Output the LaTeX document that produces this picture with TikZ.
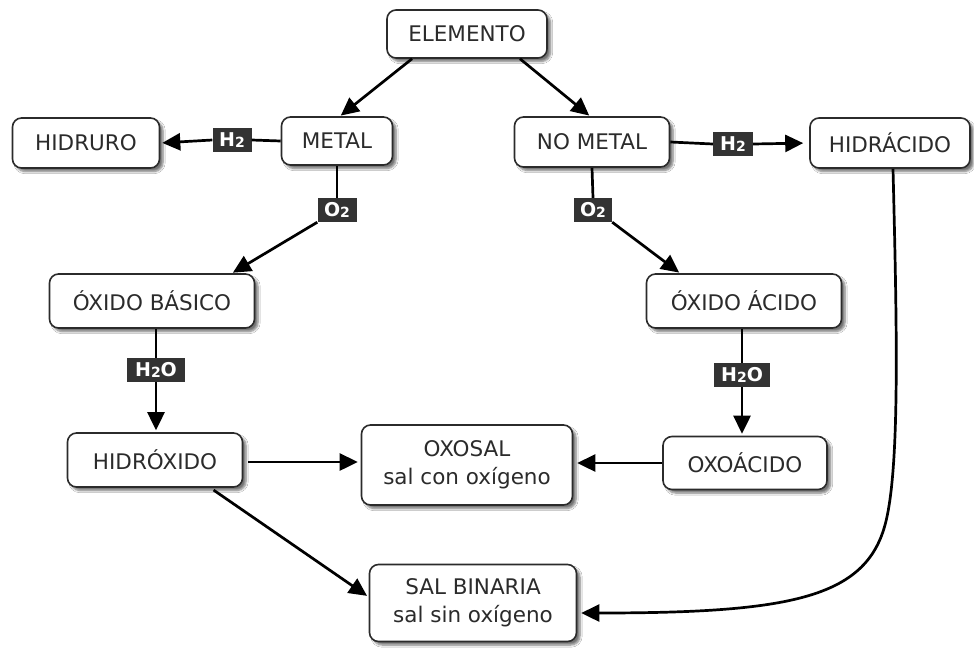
\documentclass[tikz,border=0pt]{standalone}
\usepackage{fontspec}
\setmainfont{DejaVu Sans}
\usetikzlibrary{arrows.meta,shadows.blur}
\definecolor{ink}{HTML}{2B2B2B}
\definecolor{lab}{HTML}{333333}
\newcommand{\sub}[1]{\raisebox{-0.5pt}{\fontsize{14}{14}\selectfont #1}}
\begin{document}
\begin{tikzpicture}[x=1pt,y=-1pt,
 box/.style={draw=ink, line width=1.6pt, rounded corners=9pt, fill=white, text=ink,
   font=\fontsize{21.5}{28}\selectfont, align=center, inner sep=0pt,
   blur shadow={shadow xshift=3.5pt, shadow yshift=-3.5pt, shadow blur steps=6, shadow opacity=55}},
 chem/.style={fill=lab, text=white, font=\bfseries\fontsize{19}{20}\selectfont, inner sep=0pt, minimum height=24pt},
 arr/.style={draw=black, line width=2.7pt, -{Triangle[length=18pt,width=17pt]}},
 ln/.style={draw=black, line width=2.7pt}]

\useasboundingbox (0,0) rectangle (974,656);
\fill[white] (0,0) rectangle (974,656);

\node[box, minimum width=160pt, minimum height=48pt] (elem) at (467,34) {ELEMENTO};
\node[box, minimum width=147pt, minimum height=50pt] (hidruro) at (86,143) {HIDRURO};
\node[box, minimum width=111pt, minimum height=48pt] (metal) at (337,141) {METAL};
\node[box, minimum width=155pt, minimum height=50pt] (nometal) at (592,142) {NO METAL};
\node[box, minimum width=160pt, minimum height=50pt] (hidracido) at (890,143) {HIDRÁCIDO};
\node[box, minimum width=205pt, minimum height=54pt] (oxbas) at (152,301) {ÓXIDO BÁSICO};
\node[box, minimum width=195pt, minimum height=54pt] (oxac) at (744,301) {ÓXIDO ÁCIDO};
\node[box, minimum width=175pt, minimum height=54pt] (hidrox) at (155,460) {HIDRÓXIDO};
\node[box, minimum width=211pt, minimum height=80pt] (oxosal) at (467,465) {OXOSAL\\sal con oxígeno};
\node[box, minimum width=164pt, minimum height=53pt] (oxoac) at (745,463) {OXOÁCIDO};
\node[box, minimum width=207pt, minimum height=77pt] (salbin) at (473,603) {SAL BINARIA\\sal sin oxígeno};

\node[chem, minimum width=39pt] (h2a) at (232,140) {H\sub{2}};
\node[chem, minimum width=39pt] (o2a) at (337,210) {O\sub{2}};
\node[chem, minimum width=40pt] (h2b) at (733,144) {H\sub{2}};
\node[chem, minimum width=38pt] (o2b) at (593,210) {O\sub{2}};
\node[chem, minimum width=58pt] (h2oa) at (156,370) {H\sub{2}O};
\node[chem, minimum width=56pt] (h2ob) at (742,375) {H\sub{2}O};

\draw[arr, shorten >=1pt] ([xshift=-55pt]elem.south) -- ([xshift=3pt]metal.north);
\draw[arr, shorten >=1pt] ([xshift=53pt]elem.south) -- ([xshift=-2pt]nometal.north);

\draw[ln] (metal.west) -- (h2a.east);
\draw[arr, shorten >=2pt] (h2a.west) -- (hidruro.east);
\draw[ln] (metal.south) -- (o2a.north);
\draw[arr, shorten >=1pt] (o2a.south west) -- ([xshift=80pt]oxbas.north);

\draw[ln] (nometal.east) -- (h2b.west);
\draw[arr, shorten >=6pt] (h2b.east) -- (hidracido.west);
\draw[ln] (nometal.south) -- (o2b.north);
\draw[arr, shorten >=1pt] (o2b.south east) -- ([xshift=-64pt]oxac.north);

\draw[ln] (h2oa.north |- oxbas.south) -- (h2oa.north);
\draw[arr, shorten >=2pt] (h2oa.south) -- (h2oa.south |- hidrox.north);
\draw[ln] (h2ob.north |- oxac.south) -- (h2ob.north);
\draw[arr, shorten >=2pt] (h2ob.south) -- (h2ob.south |- oxoac.north);

\draw[arr, shorten <=5pt, shorten >=3pt] ([yshift=-2pt]hidrox.east) -- ([yshift=-2pt]hidrox.east -| oxosal.west);
\draw[arr, shorten >=4pt] (oxoac.west) -- (oxoac.west -| oxosal.east);
\draw[arr, shorten <=4pt, shorten >=2pt] ([xshift=-33pt]hidrox.south east) -- ([yshift=6pt]salbin.west);
\draw[arr, shorten >=4pt] ([xshift=3pt]hidracido.south) .. controls (897,330) and (900,470) .. (885,525)
   .. controls (865,598) and (790,613) .. ([yshift=-10pt]salbin.east);
\end{tikzpicture}
\end{document}
